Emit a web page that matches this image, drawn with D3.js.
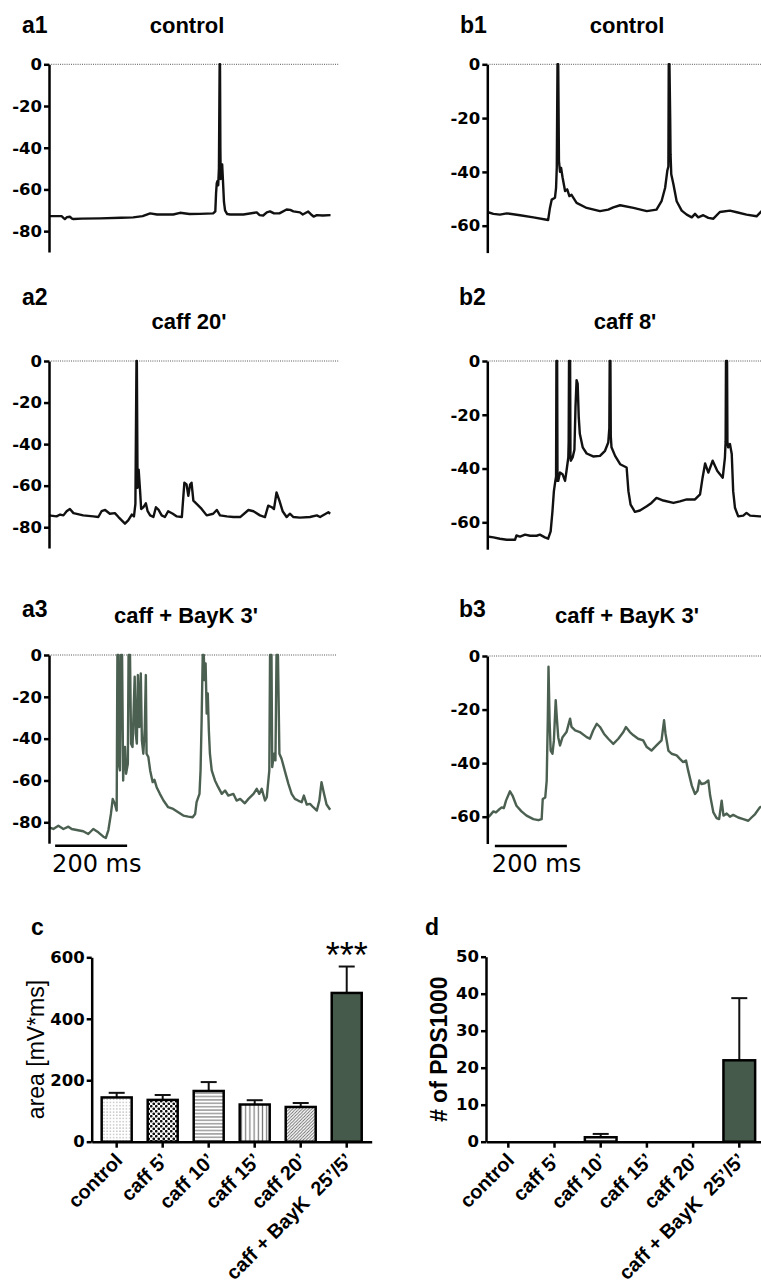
<!DOCTYPE html>
<html>
<head>
<meta charset="utf-8">
<script src="https://cdn.jsdelivr.net/npm/d3@7"></script>
<style>
  html, body { margin: 0; padding: 0; background: #fff; }
  svg { display: block; }
  text.cat { white-space: pre; }
</style>
</head>
<body>
<svg id="fig" width="761" height="1284"></svg>
<script>
// ---- membrane potential recordings: [time (ms), potential (mV)] ----
const traceA1 = [[0,-72.8],[35,-72.8],[40,-73.6],[44,-74.2],[50,-73.3],[58,-73.1],[64,-74],[68,-74.2],[90,-74],[142,-73.9],[200,-73.6],[234,-73.4],[260,-72.8],[281,-71.5],[300,-72],[345,-72],[364,-71.2],[390,-71.8],[419,-71.7],[456,-71.5],[462,-70.5],[464,-62],[466,-57],[468,-56],[470,-58],[472,-50],[474,0],[475,0],[476,-40],[477,-55],[479,-50],[481,-48],[483,-55],[486,-66],[489,-70],[495,-71.8],[503,-72],[540,-72],[577,-71],[585,-72.3],[595,-72.5],[605,-71],[614,-70.5],[625,-71.5],[640,-71.5],[660,-69.6],[670,-69.8],[679,-70.5],[697,-71],[705,-72],[720,-70.6],[728,-72],[735,-73],[744,-72.3],[760,-72.5],[782,-72.3]];

const traceB1 = [[0,-54.9],[17,-55.6],[35,-55.9],[54,-55.4],[91,-56.1],[128,-56.9],[165,-57.8],[169,-57.9],[174,-53.4],[179,-50.3],[188,-49.6],[191,-45.9],[193,-38.4],[195,0],[197,0],[199,-35.9],[202,-40],[205,-38.5],[209,-42],[216,-47.1],[222,-46.5],[228,-49],[234,-48.5],[248,-51.5],[276,-53.4],[313,-54.6],[336,-54],[350,-53.2],[369,-52.4],[406,-53.4],[443,-54.6],[470,-54],[484,-50.9],[494,-45.9],[500,-39.6],[503,-38],[504,0],[506,0],[508,-20],[509,-33.4],[511,-40.9],[517,-44.6],[526,-50.9],[540,-54.4],[554,-55.9],[568,-56.9],[577,-55.6],[586,-56.9],[600,-56.1],[614,-57.1],[628,-57.4],[646,-54.9],[674,-54.4],[693,-55],[720,-55.9],[748,-56.5],[762,-54.6],[786,-54]];

const traceA2 = [[0,-74.3],[21,-74.8],[31,-73.9],[40,-74.3],[49,-72.3],[58,-71.2],[68,-73.2],[95,-74.3],[123,-74.8],[137,-75.1],[146,-72.3],[156,-71.7],[169,-73.5],[183,-73.2],[193,-75.1],[202,-76.7],[211,-78.3],[220,-76.7],[230,-73.9],[236,-74.8],[240,-68.8],[241,-45.2],[243,0],[244,0],[246,-61],[249,-52.3],[253,-62.5],[256,-71.2],[262,-70.4],[269,-68.5],[274,-72.3],[281,-74.3],[290,-75.1],[297,-70.4],[304,-71.5],[313,-74.3],[322,-75.1],[331,-72.3],[344,-73.5],[355,-74.8],[369,-75.1],[376,-58.6],[382,-59.4],[387,-64.9],[392,-59.4],[396,-58.6],[401,-67.2],[415,-69.6],[424,-71.2],[438,-74.3],[456,-73.5],[466,-71.7],[475,-74.3],[494,-74.8],[512,-75.1],[531,-75.1],[554,-71.7],[568,-72.3],[586,-74.3],[600,-75.1],[609,-69.6],[619,-70.4],[625,-71.2],[632,-63.3],[640,-67.2],[649,-72.3],[660,-75.1],[669,-73.5],[679,-75.1],[697,-75.4],[725,-75.1],[744,-74.3],[753,-75.1],[776,-72.8],[781,-73.5]];

const traceB2 = [[0,-65.3],[17,-65.6],[35,-66.1],[54,-66.5],[77,-66.5],[81,-64.9],[91,-65.3],[105,-64.6],[119,-65],[137,-65],[146,-64.6],[160,-65.6],[169,-66.1],[176,-63.4],[181,-55.9],[185,-48.4],[189,-44.6],[191,-43],[192,0],[194,0],[195,-44.6],[197,-44.6],[202,-41.5],[209,-42.1],[216,-44.6],[220,-40.9],[225,-35.9],[226,-30],[227,0],[230,0],[231,-35],[232,-37.1],[237,-35.9],[242,-33],[245,-17.1],[248,-7.1],[251,-8.4],[254,-20.9],[257,-27.1],[265,-32.1],[276,-34.4],[294,-35.5],[313,-35.3],[327,-33.4],[336,-30.3],[339,-25],[340,0],[342,0],[343,-28],[345,-32.1],[355,-35.3],[369,-38.4],[387,-39.6],[392,-48.4],[398,-53.4],[410,-56.1],[424,-55.6],[443,-54],[456,-52.8],[470,-50.9],[489,-51.9],[517,-52.8],[535,-52.2],[554,-51.5],[577,-51.5],[591,-49.6],[598,-43.4],[605,-38.1],[614,-41.5],[626,-37.1],[639,-40.9],[654,-43.4],[660,-36],[662,-30],[663,0],[666,0],[667,-30],[669,-32.1],[674,-30.9],[679,-34.6],[683,-48.4],[688,-54.6],[697,-57.8],[711,-57.5],[720,-56.5],[730,-57.5],[757,-57.8],[786,-57.8]];

const traceA3 = [[0,-82.4],[12,-83.2],[26,-81.6],[40,-83.2],[54,-82.1],[63,-83.2],[77,-83.7],[95,-84.3],[109,-85.6],[123,-83.2],[137,-84.8],[151,-86.9],[158,-87.5],[165,-83.7],[172,-76],[177,-68.8],[183,-71.2],[188,-74.4],[190,0],[193,0],[194,-52],[197,-55.2],[200,0],[203,0],[206,-60],[208,-47.2],[211,-44],[214,-56.8],[219,-52],[221,0],[225,0],[228,-42.4],[232,-44],[238,-10.4],[241,-37.6],[244,-42.4],[247,-9.6],[251,-34.4],[255,-8.8],[258,-40.8],[262,-47.2],[266,-35.2],[269,-9.6],[271,-47.2],[276,-48.8],[281,-55.2],[288,-60.8],[293,-59.7],[299,-63.2],[308,-66.4],[318,-69.6],[331,-72.8],[345,-73.6],[359,-75.2],[373,-76.8],[387,-77.3],[399,-77.6],[406,-76],[410,-70.4],[418,-66.4],[421,-55.2],[424,-31],[427,0],[430,0],[432,-12],[435,-4],[438,-28],[441,-18.4],[444,-36],[447,-47.2],[452,-55.2],[461,-60],[470,-63.2],[480,-66.4],[489,-64.8],[498,-67.2],[512,-66.4],[521,-69.6],[531,-68.8],[544,-70.9],[554,-68.8],[568,-66.4],[577,-64],[584,-66.4],[591,-64],[600,-69.6],[605,-68],[612,-55.2],[614,0],[618,0],[620,-53.6],[625,-47.2],[629,-50.4],[632,0],[636,0],[640,-47.2],[646,-49.6],[656,-56],[665,-61.6],[674,-66.4],[683,-68.8],[692,-69.6],[702,-70.4],[708,-67.2],[716,-71.5],[725,-71.2],[734,-72.8],[744,-74.4],[751,-69.6],[757,-60.8],[764,-66.4],[771,-71.5],[781,-74]];

const traceB3 = [[0,-60.5],[7,-59.6],[17,-58],[24,-58.4],[31,-57.5],[40,-56.5],[46,-56.8],[52,-54],[58,-52.1],[63,-50.5],[70,-52.1],[81,-55.9],[95,-58],[109,-59.6],[128,-60.9],[142,-61.3],[151,-60.9],[154,-53.4],[161,-52.8],[165,-46.5],[168,-24],[170,-4],[173,-24],[176,-35.3],[181,-36.5],[185,-31.5],[190,-16.5],[193,-22.8],[197,-30.3],[202,-33.4],[209,-30.3],[220,-28.4],[230,-23.4],[234,-26.5],[244,-27.8],[257,-28.4],[276,-30.3],[285,-30.9],[294,-27.8],[304,-25.3],[313,-26.5],[324,-29],[336,-30.9],[350,-32.8],[364,-30.9],[378,-28.4],[385,-26.5],[396,-28.4],[406,-29.6],[419,-30.9],[433,-31.5],[443,-34],[456,-35.3],[470,-33.4],[484,-31.5],[491,-24],[495,-29],[503,-35.3],[512,-36.5],[526,-37.1],[535,-38.4],[544,-39.6],[552,-39],[558,-42.8],[568,-48.4],[577,-51.5],[584,-50.3],[589,-46.5],[595,-47.8],[604,-47.5],[614,-46.5],[619,-52.1],[628,-58.4],[637,-60.5],[644,-60.9],[651,-54],[656,-59.6],[665,-58.8],[674,-60],[683,-59.3],[697,-60.3],[711,-60.9],[725,-61.5],[734,-60.3],[744,-59],[757,-56.5],[786,-55]];

// ---- axis ticks ----
const traceTicksA = [0, -20, -40, -60, -80];
const traceTicksB = [0, -20, -40, -60];
const areaTicks = [0, 200, 400, 600];
const pdsTicks = [0, 10, 20, 30, 40, 50];

// ---- summary statistics (mean ± SEM) ----
const barCategories = ["control", "caff 5’", "caff 10’", "caff 15’", "caff 20’", "caff + BayK  25’/5’"];
const areaMeans = [144, 136, 165, 121, 113, 484];
const areaSem   = [15, 16, 29, 14, 13, 86];
const pdsMeans  = [0, 0, 1.2, 0, 0, 22];
const pdsSem    = [0, 0, 0.9, 0, 0, 16.8];

// ---- styling ----
const SANS = "'Liberation Sans', Arial, Helvetica, sans-serif";
const WIDE = "'DejaVu Sans', Verdana, sans-serif";
const GREEN = "#4b6050";
const BAR_GREEN = "#465a4b";

const svg = d3.select("#fig");

// fill patterns for the bar chart
const defs = svg.append("defs");
function pattern(id, w, h, build) {
  const p = defs.append("pattern").attr("id", id).attr("patternUnits", "userSpaceOnUse")
    .attr("width", w).attr("height", h);
  p.append("rect").attr("width", w).attr("height", h).attr("fill", "#fff");
  build(p);
}
pattern("pStipple", 3.2, 3.2, p => p.append("circle").attr("cx", 1.6).attr("cy", 1.6).attr("r", 0.7).attr("fill", "#aaa"));
pattern("pChecker", 5, 5, p => {
  p.append("circle").attr("cx", 1.25).attr("cy", 1.25).attr("r", 1.35).attr("fill", "#111");
  p.append("circle").attr("cx", 3.75).attr("cy", 3.75).attr("r", 1.35).attr("fill", "#111");
});
pattern("pHoriz", 6, 3.4, p => p.append("line").attr("x1", 0).attr("x2", 6).attr("y1", 1.7).attr("y2", 1.7)
  .attr("stroke", "#777").attr("stroke-width", 1.1));
pattern("pVert", 4.2, 6, p => p.append("line").attr("x1", 2.1).attr("x2", 2.1).attr("y1", 0).attr("y2", 6)
  .attr("stroke", "#777").attr("stroke-width", 1.2));
pattern("pDiag", 3.2, 3.2, p => {
  p.append("path").attr("d", "M-1,1 L1,-1 M0,3.2 L3.2,0 M2.2,4.2 L4.2,2.2")
    .attr("stroke", "#666").attr("stroke-width", 0.9);
});
const barFills = ["url(#pStipple)", "url(#pChecker)", "url(#pHoriz)", "url(#pVert)", "url(#pDiag)", BAR_GREEN];

// ---- voltage trace panels ----
const tracePanels = [
  { id: "a1", title: "control", data: traceA1, color: "#111", left: 49, top: 64.3, bottom: 252, min: -90, ticks: traceTicksA, zeroEnd: 805, labelX: 22, labelY: 33, titleX: 187, titleY: 33 },
  { id: "b1", title: "control", data: traceB1, color: "#111", left: 487.3, top: 64.3, bottom: 252.6, min: -70, ticks: traceTicksB, zeroEnd: 900, labelX: 460, labelY: 33, titleX: 627, titleY: 33 },
  { id: "a2", title: "caff 20'", data: traceA2, color: "#111", left: 49, top: 361, bottom: 548, min: -90, ticks: traceTicksA, zeroEnd: 805, labelX: 22, labelY: 305, titleX: 189, titleY: 329 },
  { id: "b2", title: "caff 8'", data: traceB2, color: "#111", left: 487.3, top: 361, bottom: 549.2, min: -70, ticks: traceTicksB, zeroEnd: 900, labelX: 459, labelY: 305, titleX: 625, titleY: 329 },
  { id: "a3", title: "caff + BayK 3'", data: traceA3, color: GREEN, left: 49, top: 655, bottom: 843.2, min: -90, ticks: traceTicksA, zeroEnd: 800, labelX: 22, labelY: 617, titleX: 186, titleY: 623, scaleBar: [17, 217] },
  { id: "b3", title: "caff + BayK 3'", data: traceB3, color: GREEN, left: 487.3, top: 656, bottom: 843.5, min: -70, ticks: traceTicksB, zeroEnd: 900, labelX: 459, labelY: 617, titleX: 627, titleY: 623, scaleBar: [21, 221] }
];

function styleAxis(g, width) {
  g.attr("font-family", WIDE).attr("font-size", 16.5).attr("font-weight", "bold");
  g.selectAll("path, line").attr("stroke", "#000").attr("stroke-width", width);
  g.selectAll("text").attr("fill", "#000");
}

tracePanels.forEach(p => {
  const x = d3.scaleLinear().domain([0, 800]).range([p.left, p.left + 800 * 0.36]);
  const y = d3.scaleLinear().domain([p.min, 0]).range([p.bottom, p.top]);
  const g = svg.append("g").attr("class", "trace-" + p.id);

  g.append("text").attr("x", p.labelX).attr("y", p.labelY)
    .attr("font-family", SANS).attr("font-weight", "bold").attr("font-size", 23).text(p.id);
  g.append("text").attr("x", p.titleX).attr("y", p.titleY).attr("text-anchor", "middle")
    .attr("font-family", SANS).attr("font-weight", "bold").attr("font-size", 22).text(p.title);

  // 0 mV reference line
  g.append("line").attr("x1", x(0)).attr("x2", x(p.zeroEnd)).attr("y1", y(0)).attr("y2", y(0))
    .attr("stroke", "#555").attr("stroke-width", 1).attr("stroke-dasharray", "1,1.2");

  g.append("path").datum(p.data)
    .attr("fill", "none").attr("stroke", p.color).attr("stroke-width", 2.4)
    .attr("stroke-linejoin", "round")
    .attr("d", d3.line().x(d => x(d[0])).y(d => y(d[1])));

  const ax = g.append("g").attr("transform", `translate(${p.left},0)`)
    .call(d3.axisLeft(y).tickValues(p.ticks).tickSize(5).tickSizeOuter(0).tickPadding(2)
      .tickFormat(d => String(d)));
  styleAxis(ax, 2.5);

  if (p.scaleBar) {
    const yb = p.bottom + 2.5;
    g.append("line").attr("x1", x(p.scaleBar[0])).attr("x2", x(p.scaleBar[1]))
      .attr("y1", yb).attr("y2", yb).attr("stroke", "#000").attr("stroke-width", 2.6);
    g.append("text").attr("x", x(p.scaleBar[0]) - 3).attr("y", yb + 26)
      .attr("font-family", WIDE).attr("font-size", 24).text("200 ms");
  }
});

// ---- summary bar charts ----
const barPanels = [
  { id: "c", means: areaMeans, sem: areaSem, ticks: areaTicks, max: 600, left: 91.7, right: 371.7, pi: 0.348, po: 0.217, base: 1141.7, top: 957.3,
    labelX: 31, labelY: 935, yTitle: "area [mV*ms]", yTitleX: 44, yTitleWeight: "normal", star: "***" },
  { id: "d", means: pdsMeans, sem: pdsSem, ticks: pdsTicks, max: 50, left: 486, right: 761.6, pi: 0.314, po: 0.14, base: 1141.7, top: 956.7,
    labelX: 425, labelY: 935, yTitle: "# of PDS1000", yTitleX: 447, yTitleWeight: "bold" }
];

barPanels.forEach(p => {
  const x = d3.scaleBand().domain(barCategories).range([p.left, p.right])
    .paddingInner(p.pi).paddingOuter(p.po);
  const y = d3.scaleLinear().domain([0, p.max]).range([p.base, p.top]);
  const g = svg.append("g").attr("class", "bars-" + p.id);
  const bw = x.bandwidth();
  const rows = barCategories.map((c, i) => ({ c, i, m: p.means[i], e: p.sem[i] }));

  g.append("text").attr("x", p.labelX).attr("y", p.labelY)
    .attr("font-family", SANS).attr("font-weight", "bold").attr("font-size", 23).text(p.id);

  // error bars (upper half only)
  const eb = g.selectAll("g.err").data(rows.filter(d => d.e > 0)).join("g").attr("class", "err");
  eb.append("line")
    .attr("x1", d => x(d.c) + bw / 2).attr("x2", d => x(d.c) + bw / 2)
    .attr("y1", d => y(d.m)).attr("y2", d => y(d.m + d.e))
    .attr("stroke", "#111").attr("stroke-width", 2);
  eb.append("line")
    .attr("x1", d => x(d.c) + bw / 2 - 8).attr("x2", d => x(d.c) + bw / 2 + 8)
    .attr("y1", d => y(d.m + d.e)).attr("y2", d => y(d.m + d.e))
    .attr("stroke", "#111").attr("stroke-width", 2);

  g.selectAll("rect.bar").data(rows).join("rect").attr("class", "bar")
    .attr("x", d => x(d.c)).attr("width", bw)
    .attr("y", d => y(d.m)).attr("height", d => y(0) - y(d.m))
    .attr("fill", d => barFills[d.i]).attr("stroke", "#000").attr("stroke-width", 2.5);

  const ay = g.append("g").attr("transform", `translate(${p.left},0)`)
    .call(d3.axisLeft(y).tickValues(p.ticks).tickSize(5).tickSizeOuter(0).tickPadding(2)
      .tickFormat(d => String(d)));
  styleAxis(ay, 2.5);

  const axb = g.append("g").attr("transform", `translate(0,${p.base})`)
    .call(d3.axisBottom(x).tickSize(6).tickSizeOuter(0).tickFormat(""));
  styleAxis(axb, 2.5);

  g.selectAll("text.cat").data(rows).join("text").attr("class", "cat")
    .attr("transform", d => `translate(${x(d.c) + bw / 2 + 7},${p.base + 20}) rotate(-45)`)
    .attr("text-anchor", "end")
    .attr("font-family", SANS).attr("font-weight", "bold").attr("font-size", 19.8)
    .text(d => d.c);

  g.append("text")
    .attr("transform", `translate(${p.yTitleX},${(p.top + p.base) / 2}) rotate(-90)`)
    .attr("text-anchor", "middle")
    .attr("font-family", SANS).attr("font-weight", p.yTitleWeight).attr("font-size", 23)
    .text(p.yTitle);

  if (p.star) {
    const last = rows[rows.length - 1];
    g.append("text").attr("x", x(last.c) + bw / 2).attr("y", y(last.m + last.e) + 1)
      .attr("text-anchor", "middle").attr("font-family", SANS).attr("font-size", 36)
      .text(p.star);
  }
});
</script>
</body>
</html>
